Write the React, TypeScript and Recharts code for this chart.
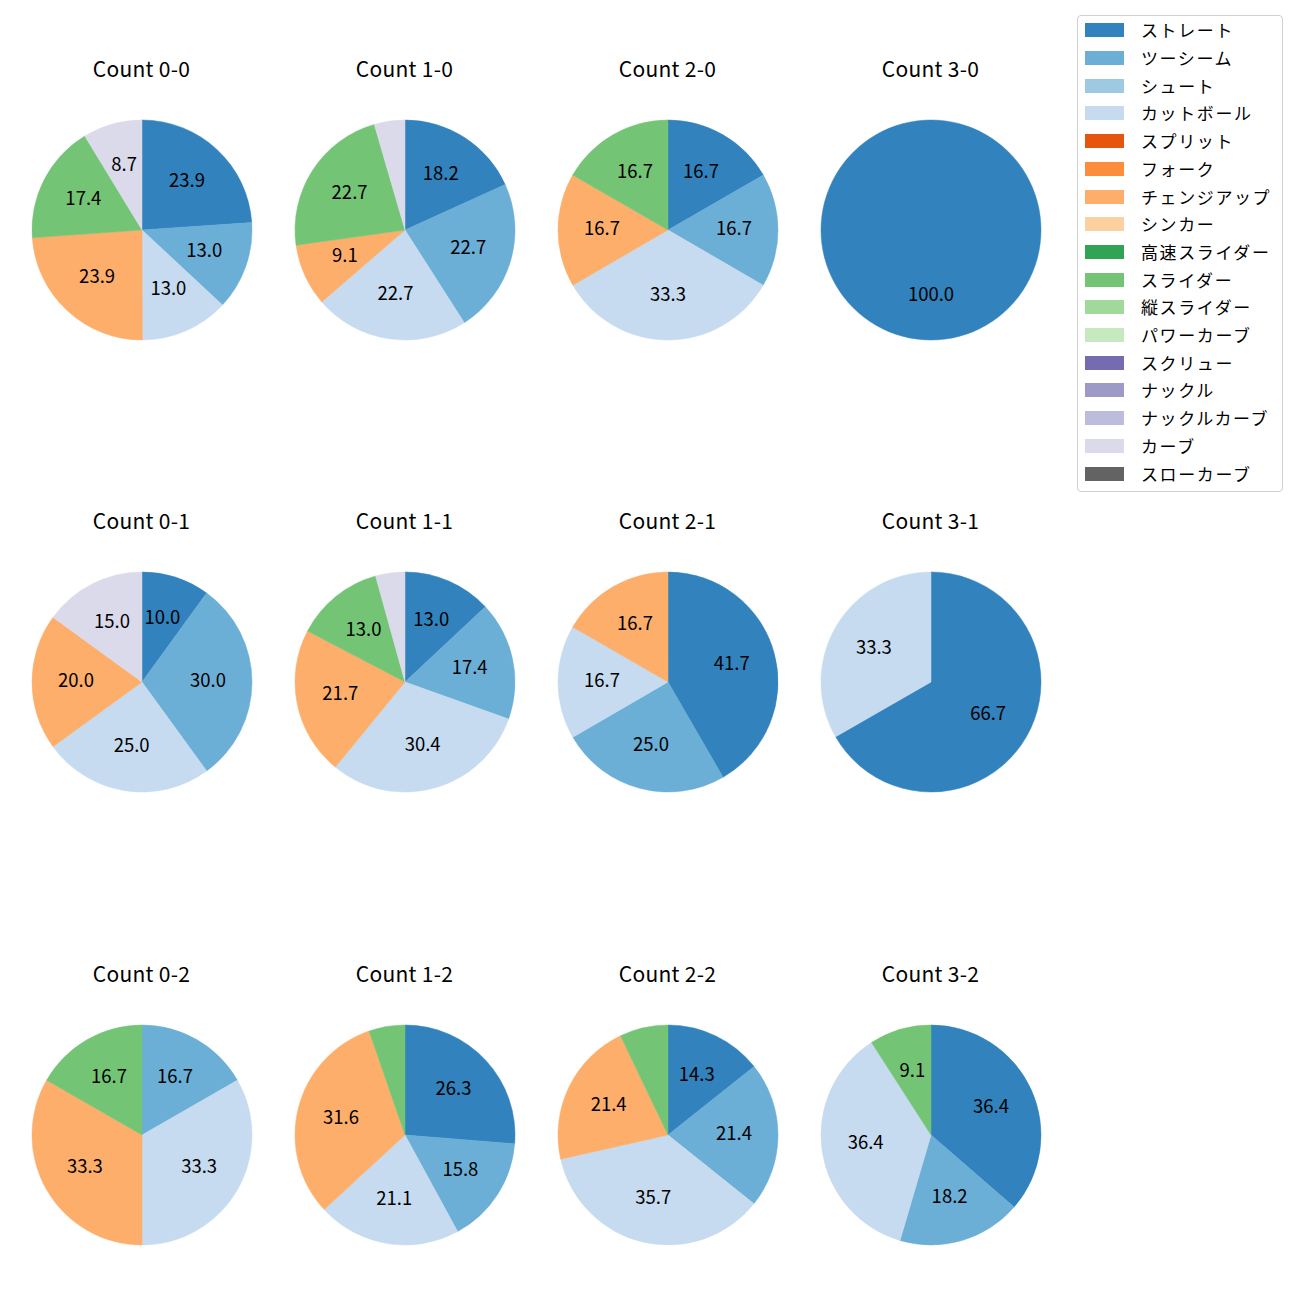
import { PieChart, Pie, Cell } from 'recharts';

const pitchNames = [
  'ストレート', 'ツーシーム', 'シュート', 'カットボール', 'スプリット', 'フォーク',
  'チェンジアップ', 'シンカー', '高速スライダー', 'スライダー', '縦スライダー',
  'パワーカーブ', 'スクリュー', 'ナックル', 'ナックルカーブ', 'カーブ', 'スローカーブ',
];

const pitchColors = [
  '#3182bd', '#6baed6', '#9ecae1', '#c6dbef', '#e6550d', '#fd8d3c',
  '#fdae6b', '#fdd0a2', '#31a354', '#74c476', '#a1d99b',
  '#c7e9c0', '#756bb1', '#9e9ac8', '#bcbddc', '#dadaeb', '#636363',
];

// share (%) per pitch type, same order as pitchNames
const count00 = [23.9, 13.0, 0, 13.0, 0, 0, 23.9, 0, 0, 17.4, 0, 0, 0, 0, 0, 8.7, 0];
const count10 = [18.2, 22.7, 0, 22.7, 0, 0, 9.1, 0, 0, 22.7, 0, 0, 0, 0, 0, 4.5, 0];
const count20 = [16.7, 16.7, 0, 33.3, 0, 0, 16.7, 0, 0, 16.7, 0, 0, 0, 0, 0, 0, 0];
const count30 = [100.0, 0, 0, 0, 0, 0, 0, 0, 0, 0, 0, 0, 0, 0, 0, 0, 0];
const count01 = [10.0, 30.0, 0, 25.0, 0, 0, 20.0, 0, 0, 0, 0, 0, 0, 0, 0, 15.0, 0];
const count11 = [13.0, 17.4, 0, 30.4, 0, 0, 21.7, 0, 0, 13.0, 0, 0, 0, 0, 0, 4.3, 0];
const count21 = [41.7, 25.0, 0, 16.7, 0, 0, 16.7, 0, 0, 0, 0, 0, 0, 0, 0, 0, 0];
const count31 = [66.7, 0, 0, 33.3, 0, 0, 0, 0, 0, 0, 0, 0, 0, 0, 0, 0, 0];
const count02 = [0, 16.7, 0, 33.3, 0, 0, 33.3, 0, 0, 16.7, 0, 0, 0, 0, 0, 0, 0];
const count12 = [26.3, 15.8, 0, 21.1, 0, 0, 31.6, 0, 0, 5.3, 0, 0, 0, 0, 0, 0, 0];
const count22 = [14.3, 21.4, 0, 35.7, 0, 0, 21.4, 0, 0, 7.1, 0, 0, 0, 0, 0, 0, 0];
const count32 = [36.4, 18.2, 0, 36.4, 0, 0, 0, 0, 0, 9.1, 0, 0, 0, 0, 0, 0, 0];

const panels = [
  { title: 'Count 0-0', values: count00 },
  { title: 'Count 1-0', values: count10 },
  { title: 'Count 2-0', values: count20 },
  { title: 'Count 3-0', values: count30 },
  { title: 'Count 0-1', values: count01 },
  { title: 'Count 1-1', values: count11 },
  { title: 'Count 2-1', values: count21 },
  { title: 'Count 3-1', values: count31 },
  { title: 'Count 0-2', values: count02 },
  { title: 'Count 1-2', values: count12 },
  { title: 'Count 2-2', values: count22 },
  { title: 'Count 3-2', values: count32 },
];

const FONT = '"Noto Sans CJK JP", "Noto Sans", sans-serif';
const colX = [141.5, 404.5, 667.5, 930.5];
const rowY = [229.5, 682, 1134.5];
const R = 110;
const BOX = 260;
const RAD = Math.PI / 180;

const renderLabel = (props: any) => {
  const { cx, cy, midAngle, outerRadius, value } = props;
  if (value < 8) return null;
  const r = outerRadius * 0.6;
  const x = cx + r * Math.cos(-midAngle * RAD);
  const y = cy + r * Math.sin(-midAngle * RAD) - 3;
  return (
    <text x={x} y={y} textAnchor="middle" dominantBaseline="central"
      fontSize={18.5} fill="#000" fontFamily={FONT}>
      {value.toFixed(1)}
    </text>
  );
};

function PiePanel({ title, values, x, y }: { title: string; values: number[]; x: number; y: number }) {
  const data = values
    .map((v, i) => ({ name: pitchNames[i], value: v, color: pitchColors[i] }))
    .filter((d) => d.value > 0);
  return (
    <>
      <div style={{
        position: 'absolute', left: x - 100, width: 200, top: y - 162 - 14,
        height: 28, lineHeight: '28px', textAlign: 'center', fontSize: 21, letterSpacing: 0.3,
        fontFamily: FONT, color: '#000',
      }}>
        {title}
      </div>
      <div style={{ position: 'absolute', left: x - BOX / 2, top: y - BOX / 2 }}>
        <PieChart width={BOX} height={BOX} margin={{ top: 0, right: 0, bottom: 0, left: 0 }}>
          <Pie data={data} dataKey="value" nameKey="name" cx={BOX / 2} cy={BOX / 2}
            outerRadius={R} startAngle={90} endAngle={-270}
            label={renderLabel} labelLine={false} isAnimationActive={false}>
            {data.map((d) => (
              <Cell key={d.name} fill={d.color} stroke={d.color} strokeWidth={0.5} />
            ))}
          </Pie>
        </PieChart>
      </div>
    </>
  );
}

function LegendBox() {
  return (
    <div style={{
      position: 'absolute', left: 1077, top: 15, width: 204, height: 475,
      border: '1px solid #d0d0d0', borderRadius: 4, background: '#fff',
    }}>
      {pitchNames.map((name, i) => (
        <div key={name} style={{ position: 'absolute', left: 0, top: 14.3 + i * 27.7 - 14, height: 28, width: 204 }}>
          <div style={{ position: 'absolute', left: 7, top: 7, width: 39, height: 14, background: pitchColors[i] }} />
          <div style={{
            position: 'absolute', left: 63, top: 0, height: 28, lineHeight: '28px',
            fontSize: 17, letterSpacing: 1.6, fontFamily: FONT, color: '#000', whiteSpace: 'nowrap',
          }}>
            {name}
          </div>
        </div>
      ))}
    </div>
  );
}

export default function App() {
  return (
    <div style={{ position: 'absolute', left: 0, top: 0, width: 1300, height: 1300, background: '#fff' }}>
      {panels.map((p, i) => (
        <PiePanel key={p.title} title={p.title} values={p.values} x={colX[i % 4]} y={rowY[Math.floor(i / 4)]} />
      ))}
      <LegendBox />
    </div>
  );
}
